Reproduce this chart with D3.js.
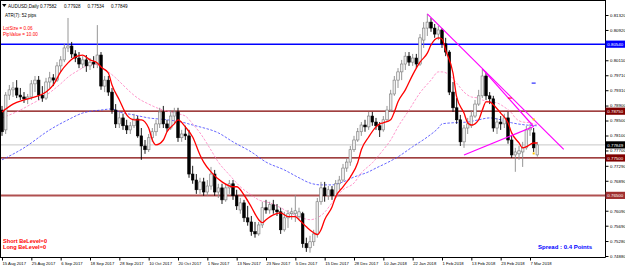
<!DOCTYPE html>
<html><head><meta charset="utf-8">
<script src="https://cdn.jsdelivr.net/npm/d3@7"></script>
<style>
html,body{margin:0;padding:0;background:#fff;overflow:hidden}
svg{display:block}
text{font-family:"Liberation Sans",Arial,sans-serif}
</style></head><body>
<svg id="c" width="625" height="268"></svg>
<script>
// ---------- data (AUDUSD, Daily) ----------
const opens = [
.7878,.7825,.7918,.7932,.7937,.7918,.7913,.7908,.7913,.7948,
.7958,.7918,.7910,.7953,.7964,.7958,.7996,.8012,.8044,.8049,
.8028,.8017,.8001,.8012,.7996,.8006,.8001,.8025,.7942,.7958,
.7926,.7878,.7841,.7857,.7836,.7825,.7836,.7854,.7809,.7782,
.7772,.7804,.7820,.7841,.7873,.7841,.7830,.7862,.7873,.7804,
.7814,.7809,.7707,.7691,.7665,.7686,.7659,.7675,.7707,.7659,
.7670,.7638,.7670,.7681,.7649,.7611,.7630,.7590,.7579,.7553,
.7547,.7571,.7617,.7611,.7625,.7611,.7606,.7558,.7590,.7601,
.7601,.7593,.7601,.7521,.7510,.7526,.7547,.7633,.7670,.7649,
.7665,.7649,.7681,.7691,.7723,.7739,.7772,.7798,.7820,.7838,
.7833,.7862,.7846,.7836,.7825,.7852,.7878,.7921,.7958,.7980,
.8001,.8022,.8006,.8017,.8001,.8065,.8097,.8113,.8097,.8081,
.8092,.8055,.8033,.7926,.7884,.7852,.7793,.7830,.7836,.7862,
.7894,.7916,.7969,.7916,.7908,.7830,.7846,.7841,.7857,.7798,
.7758,.7761,.7766,.7777,.7825,.7817,.77582];
const highs = [
.7889,.7926,.7945,.7953,.7958,.7937,.7926,.7921,.7958,.7969,
.7969,.7942,.7964,.7980,.7974,.8006,.8022,.8055,.8124,.8060,
.8038,.8033,.8022,.8025,.8017,.8022,.8105,.8033,.7969,.7969,
.7937,.7894,.7873,.7868,.7852,.7846,.7868,.7862,.7830,.7798,
.7814,.7830,.7852,.7884,.7889,.7852,.7878,.7884,.7884,.7825,
.7836,.7825,.7729,.7707,.7697,.7697,.7691,.7726,.7718,.7681,
.7681,.7681,.7691,.7691,.7665,.7643,.7638,.7622,.7595,.7579,
.7579,.7633,.7638,.7633,.7638,.7627,.7617,.7606,.7611,.7617,
.7651,.7617,.7606,.7537,.7542,.7558,.7643,.7686,.7686,.7675,
.7675,.7691,.7702,.7734,.7750,.7782,.7809,.7830,.7846,.7852,
.7873,.7873,.7857,.7846,.7862,.7889,.7932,.7969,.7990,.8012,
.8033,.8033,.8028,.8028,.8081,.8113,.8135,.8124,.8108,.8103,
.8097,.8071,.8038,.7953,.7910,.7865,.7838,.7857,.7878,.7905,
.7932,.7988,.7980,.7926,.7916,.7857,.7862,.7868,.7873,.7809,
.7777,.7782,.7793,.7836,.7841,.7830,.77928];
const lows = [
.7809,.7814,.7905,.7913,.7910,.7905,.7897,.7894,.7905,.7926,
.7905,.7900,.7905,.7937,.7942,.7953,.7980,.8006,.8033,.8017,
.8006,.7990,.7990,.7980,.7985,.7990,.7990,.7932,.7926,.7916,
.7868,.7830,.7830,.7825,.7814,.7814,.7830,.7804,.7745,.7761,
.7766,.7793,.7809,.7830,.7830,.7820,.7825,.7841,.7793,.7793,
.7798,.7697,.7681,.7654,.7654,.7649,.7649,.7665,.7649,.7643,
.7627,.7633,.7654,.7638,.7611,.7601,.7579,.7569,.7542,.7537,
.7542,.7563,.7601,.7601,.7601,.7595,.7547,.7553,.7563,.7585,
.7579,.7585,.7510,.7499,.7497,.7515,.7537,.7625,.7633,.7638,
.7638,.7643,.7665,.7686,.7713,.7729,.7766,.7793,.7809,.7820,
.7825,.7836,.7825,.7806,.7820,.7846,.7873,.7916,.7937,.7958,
.7985,.7996,.7996,.7990,.7996,.8044,.8076,.8087,.8071,.8065,
.8044,.8022,.7918,.7873,.7841,.7782,.7777,.7814,.7830,.7857,
.7889,.7910,.7905,.7894,.7820,.7814,.7825,.7830,.7788,.7750,
.7713,.7745,.7726,.7772,.7809,.7766,.77534];
const closes = [
.7820,.7918,.7932,.7937,.7918,.7913,.7908,.7913,.7948,.7958,
.7918,.7910,.7953,.7964,.7958,.7996,.8012,.8044,.8049,.8028,
.8017,.8001,.8012,.7996,.8006,.8001,.8025,.7942,.7958,.7926,
.7878,.7841,.7857,.7836,.7825,.7836,.7854,.7809,.7782,.7772,
.7804,.7820,.7841,.7873,.7841,.7830,.7862,.7873,.7804,.7814,
.7809,.7707,.7691,.7665,.7686,.7659,.7675,.7707,.7659,.7670,
.7638,.7670,.7681,.7649,.7622,.7630,.7590,.7579,.7553,.7547,
.7571,.7617,.7611,.7625,.7611,.7606,.7558,.7590,.7601,.7606,
.7609,.7606,.7521,.7510,.7526,.7547,.7633,.7670,.7649,.7665,
.7649,.7681,.7691,.7723,.7739,.7772,.7798,.7820,.7838,.7833,
.7862,.7846,.7836,.7825,.7852,.7878,.7921,.7958,.7980,.8001,
.8022,.8006,.8017,.8001,.8071,.8097,.8113,.8097,.8081,.8092,
.8055,.8033,.7926,.7884,.7852,.7793,.7830,.7841,.7862,.7894,
.7916,.7969,.7916,.7908,.7830,.7846,.7841,.7857,.7798,.7758,
.7766,.7769,.7777,.7825,.7830,.7777,.77849];

// moving averages (bar index, price)
const maFastBars = [0,3,6,9,12,14,16,18,20,22,24,26,27,29,30,32,34,36,38,40,41,42,44,45,47,48,50,52,54,55,57,60,63,64,66,68,70,71,72,74,76,78,80,81,83,85,86,87,88,90,91,93,95,97,98,100,102,103,104,106,107,108,110,112,114,116,117,119,120,121,123,124,126,127,128,130,131,132,133,134,136,138,139,141,142,143,145,146];
const maFast = [.7873,.7894,.7905,.7913,.7926,.7945,.7980,.8004,.8020,.8025,.8012,.8004,.7993,.7977,.7945,.7905,.7865,.7852,.7852,.7830,.7798,.7785,.7798,.7820,.7841,.7852,.7833,.7806,.7758,.7739,.7713,.7686,.7673,.7673,.7651,.7619,.7585,.7577,.7585,.7598,.7603,.7593,.7593,.7585,.7566,.7550,.7545,.7558,.7585,.7619,.7646,.7673,.7699,.7737,.7772,.7806,.7833,.7841,.7844,.7852,.7873,.7900,.7932,.7972,.8006,.8030,.8052,.8071,.8068,.8038,.7977,.7913,.7870,.7844,.7838,.7852,.7878,.7900,.7900,.7892,.7870,.7844,.7817,.7790,.7777,.7780,.7790,.7790];
const maMidBars = [0,5,8,11,14,16,18,21,23,25,27,29,31,33,35,37,40,43,46,48,50,52,54,57,59,62,65,68,70,73,76,78,81,84,86,88,90,93,96,98,101,104,106,108,111,114,117,119,120,122,124,126,128,130,131,133,135,137,139,140,142,144,146];
const maMid = [.7857,.7878,.7894,.7910,.7932,.7948,.7966,.7985,.7996,.8001,.7993,.7980,.7964,.7945,.7926,.7910,.7894,.7881,.7873,.7868,.7862,.7841,.7817,.7771,.7739,.7705,.7673,.7651,.7638,.7630,.7617,.7606,.7593,.7585,.7590,.7605,.7630,.7665,.7683,.7710,.7737,.7772,.7798,.7833,.7878,.7924,.7958,.7980,.7980,.7972,.7950,.7926,.7913,.7910,.7905,.7900,.7897,.7886,.7870,.7857,.7846,.7844,.7838];
const maSlowBars = [0,6,13,18,22,27,30,32,36,40,45,49,52,54,59,63,68,72,77,81,84,87,90,93,96,100,102,105,108,112,116,119,120,123,127,130,133,136,139,143,146];
const maSlow = [.7745,.7777,.7825,.7852,.7870,.7878,.7881,.7873,.7865,.7857,.7852,.7846,.7838,.7833,.7817,.7793,.7766,.7739,.7718,.7697,.7683,.7678,.7678,.7686,.7699,.7713,.7723,.7737,.7753,.7780,.7806,.7830,.7841,.7844,.7846,.7852,.7857,.7852,.7844,.7838,.7836];

// horizontal levels and trend lines
const levelPrices = [0.80540, 0.78750, 0.77500, 0.76500];
const lastPrice = 0.77849;
const trendFrom = [[116, 0.8135], [131, 0.7988], [126, 0.7758]];
const trendTo   = [[153.2, 0.7773], [145, 0.7834], [145, 0.7834]];
const signalBars = [145, 145];
const signalPrices = [0.7853, 0.7762];
const dashBars = [145, 138.5];
const dashPrices = [0.7950, 0.7910];

// axis labels
const priceTicks = ["0.81320","0.80920","0.80510","0.80110","0.79710","0.79310","0.78900","0.78500","0.78100","0.77700","0.77290","0.76890","0.76490","0.76090","0.75690","0.75280","0.74880"];
const dateLabels = ["15 Aug 2017","25 Aug 2017","6 Sep 2017","18 Sep 2017","28 Sep 2017","10 Oct 2017","20 Oct 2017","1 Nov 2017","13 Nov 2017","23 Nov 2017","5 Dec 2017","15 Dec 2017","28 Dec 2017","10 Jan 2018","22 Jan 2018","1 Feb 2018","13 Feb 2018","23 Feb 2018","7 Mar 2018"];
const dateLabelBars = [0,8,16,24,32,40,48,56,64,72,80,88,96,104,112,120,128,136,144];
const title = "AUDUSD,Daily";
const titleValues = ["0.77582","0.77928","0.77534","0.77849"];

// ---------- drawing ----------
const svg = d3.select("#c");
const R = 605, B = 257;
const x = d3.scaleLinear().domain([0, 144]).range([2, 530]);
const y = d3.scaleLinear().domain([0.74880, 0.81320]).range([256, 15]);

svg.append("rect").attr("width",625).attr("height",268).attr("fill","#fff");
svg.append("defs").append("clipPath").attr("id","pc")
  .append("rect").attr("x",1).attr("y",1).attr("width",R-1).attr("height",B-1);
const plot = svg.append("g").attr("clip-path","url(#pc)");

// current price line
plot.append("line").attr("x1",0).attr("x2",R).attr("y1",y(lastPrice)).attr("y2",y(lastPrice))
  .attr("stroke","#c8c8c8").attr("stroke-width",1);

// horizontal levels
const levelColors = ["#0000ff","#800000","#800000","#b05050"];
const levelWidths = [1.4,1.3,1.3,2];
levelPrices.forEach((p,k)=>{
  plot.append("line").attr("x1",0).attr("x2",R).attr("y1",y(p)).attr("y2",y(p))
    .attr("stroke",levelColors[k]).attr("stroke-width",levelWidths[k]);
});

// moving averages
const line = d3.line().x(d=>x(d[0])).y(d=>y(d[1])).curve(d3.curveMonotoneX);
plot.append("path").datum(maSlowBars.map((b,k)=>[b,maSlow[k]]))
  .attr("d",line).attr("fill","none").attr("stroke","#4040ff").attr("stroke-width",0.8).attr("stroke-dasharray","2.5,1.5");
plot.append("path").datum(maMidBars.map((b,k)=>[b,maMid[k]]))
  .attr("d",line).attr("fill","none").attr("stroke","#ff80c0").attr("stroke-width",0.8).attr("stroke-dasharray","2.5,1.5");

// candles
const bw = 2.6;
const candles = plot.append("g");
closes.forEach((c,i)=>{
  const o = opens[i], bull = c >= o;
  candles.append("line").attr("x1",x(i)).attr("x2",x(i)).attr("y1",y(highs[i])).attr("y2",y(lows[i]))
    .attr("stroke", bull ? "#8a8a8a" : "#000").attr("stroke-width",0.9);
  const top = y(Math.max(o,c)), h = Math.max(0.8, Math.abs(y(o)-y(c)));
  candles.append("rect").attr("x",x(i)-bw/2).attr("y",top).attr("width",bw).attr("height",h)
    .attr("fill", bull ? "#ececec" : "#000").attr("stroke", bull ? "#7a7a7a" : "#000").attr("stroke-width",0.6);
});

plot.append("path").datum(maFastBars.map((b,k)=>[b,maFast[k]]))
  .attr("d",line).attr("fill","none").attr("stroke","#ff0000").attr("stroke-width",1.3);

// trend lines
trendFrom.forEach((f,k)=>{
  const t = trendTo[k];
  plot.append("line").attr("x1",x(f[0])).attr("y1",y(f[1])).attr("x2",x(t[0])).attr("y2",y(t[1]))
    .attr("stroke","#ff00ff").attr("stroke-width",1.2);
});
// signal markers
signalBars.forEach((b,k)=>{
  plot.append("rect").attr("x",x(b)-1).attr("y",y(signalPrices[k])-1).attr("width",2).attr("height",2).attr("fill","#ffc000");
});
dashBars.forEach((b,k)=>{
  plot.append("line").attr("x1",x(b)-2).attr("x2",x(b)+2).attr("y1",y(dashPrices[k])).attr("y2",y(dashPrices[k]))
    .attr("stroke", k===0 ? "#0000ff" : "#ff0000").attr("stroke-width",1);
});

// frame
svg.append("line").attr("x1",R+0.5).attr("x2",R+0.5).attr("y1",0).attr("y2",B+0.5).attr("stroke","#000").attr("stroke-width",1);
svg.append("line").attr("x1",0).attr("x2",R+0.5).attr("y1",B+0.5).attr("y2",B+0.5).attr("stroke","#000").attr("stroke-width",1);
svg.append("line").attr("x1",0.5).attr("x2",0.5).attr("y1",0).attr("y2",B).attr("stroke","#000").attr("stroke-width",1);
svg.append("line").attr("x1",0).attr("x2",R).attr("y1",0.5).attr("y2",0.5).attr("stroke","#000").attr("stroke-width",1);

// price axis (labels hidden where a level tag sits on top of them)
const tagPrices = levelPrices.concat([lastPrice]);
const visibleTicks = priceTicks.filter(t => tagPrices.every(p => Math.abs(y(p) - y(+t)) > 5));
const yAxis = d3.axisRight(y).tickValues(priceTicks.map(Number)).tickFormat(d => {
  const s = d3.format(".5f")(d);
  return visibleTicks.includes(s) ? s : "";
}).tickSize(3).tickPadding(1.5);
const ya = svg.append("g").attr("transform",`translate(${R+0.5},0)`).call(yAxis);
ya.select(".domain").remove();
ya.selectAll("text").attr("font-size",4.4).attr("fill","#000").attr("font-family","Liberation Sans, Arial, sans-serif");
ya.selectAll("text").filter(function(){ return this.textContent === ""; }).remove();
ya.selectAll("line").attr("stroke","#000");

// date axis
const xAxis = d3.axisBottom(x).tickValues(dateLabelBars).tickFormat((d,i)=>dateLabels[i]).tickSize(3).tickPadding(2);
const xa = svg.append("g").attr("transform",`translate(0,${B+0.5})`).call(xAxis);
xa.select(".domain").remove();
xa.selectAll("text").attr("font-size",4.2).attr("fill","#000").attr("text-anchor","start").attr("dx",0)
  .attr("font-family","Liberation Sans, Arial, sans-serif");
xa.selectAll("line").attr("stroke","#000");

// level labels on the price scale
function tag(p, bg, label){
  const g = svg.append("g").attr("transform",`translate(${R+0.5},${y(p)})`);
  g.append("rect").attr("x",0).attr("y",-3.6).attr("width",19.5).attr("height",7.2).attr("fill",bg);
  g.append("text").attr("x",1.8).attr("y",1.6).attr("font-size",4.4).attr("fill","#fff").text(label);
}
const fmt = d3.format(".5f");
const tagColors = ["#0000ff","#800000","#800000","#a03030"];
levelPrices.forEach((p,k)=>tag(p, tagColors[k], fmt(p)));
tag(lastPrice, "#000", fmt(lastPrice));

// texts
svg.append("path").attr("d","M2,4 L6.5,4 L4.25,7 Z").attr("fill","#000");
svg.append("text").attr("x",8).attr("y",7.6).attr("font-size",4.6).attr("fill","#000").text(title);
const tvx = [40,64,87.5,111];
titleValues.forEach((t,k)=>svg.append("text").attr("x",tvx[k]).attr("y",7.6).attr("font-size",4.6).attr("fill","#000").text(t));
svg.append("text").attr("x",5).attr("y",16.6).attr("font-size",4.5).attr("fill","#000").text("ATR(7):   52 pips");
svg.append("text").attr("x",3).attr("y",30).attr("font-size",4.6).attr("fill","#ff0000").text("LotSize = 0.06");
svg.append("text").attr("x",3).attr("y",36).attr("font-size",4.6).attr("fill","#ff0000").text("PipValue = 10.00");
svg.append("text").attr("x",3).attr("y",242.5).attr("font-size",5.6).attr("fill","#ff0000").attr("font-weight","bold").text("Short BeLevel=0");
svg.append("text").attr("x",3).attr("y",249).attr("font-size",5.6).attr("fill","#ff0000").attr("font-weight","bold").text("Long  BeLevel=0");
svg.append("text").attr("x",538).attr("y",249).attr("font-size",6).attr("fill","#0000ff").attr("font-weight","bold").text("Spread : 0.4 Points");
</script>
</body></html>
